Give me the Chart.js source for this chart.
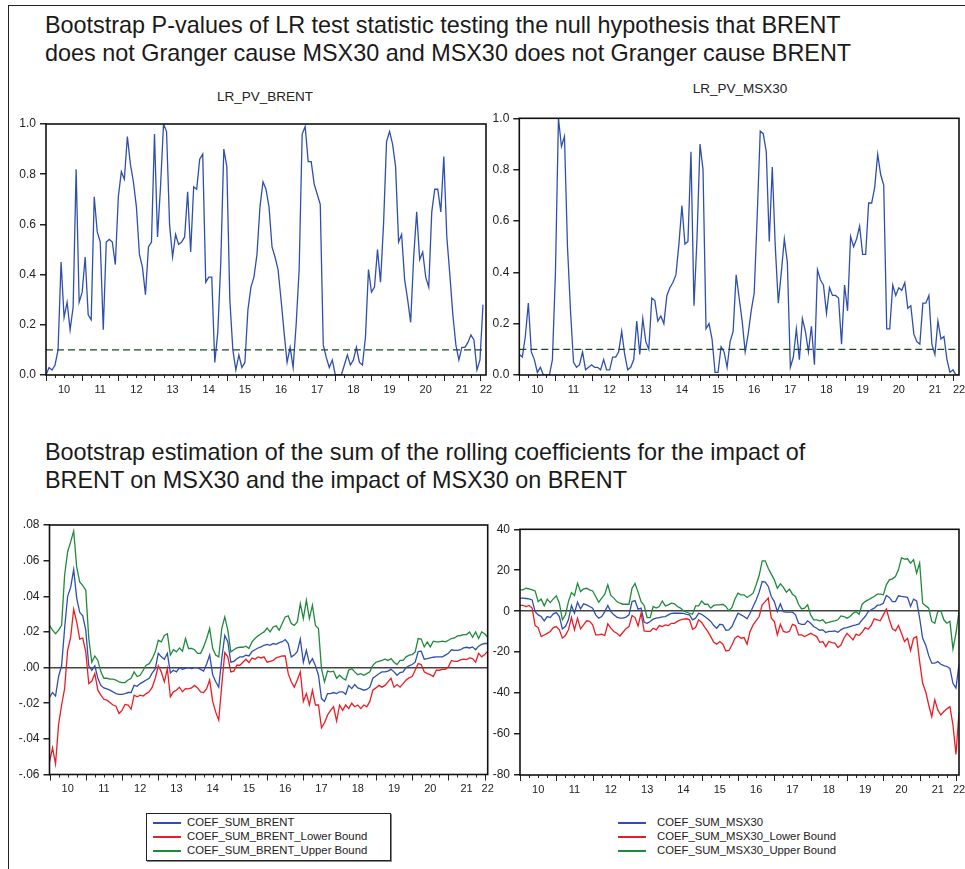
<!DOCTYPE html>
<html>
<head>
<meta charset="utf-8">
<script src="https://cdn.jsdelivr.net/npm/chart.js@4.4.0/dist/chart.umd.min.js"></script>
<style>
html, body { margin: 0; padding: 0; background: #fff; }
body { width: 965px; height: 869px; position: relative; overflow: hidden; font-family: "Liberation Sans", Arial, sans-serif; }
.frame { position: absolute; left: 8px; top: 5px; width: 990px; height: 900px; border-left: 1px solid #222; border-top: 1px solid #222; }
.title { position: absolute; left: 45px; font-size: 23.4px; line-height: 28px; color: #1a1a1a; white-space: nowrap; }
.ptitle { position: absolute; font-size: 13.5px; line-height: 16px; color: #222; transform: translateX(-50%); white-space: nowrap; }
canvas { position: absolute; }
.legend { position: absolute; font-size: 11.3px; color: #222; }
.legend.boxed { border: 1px solid #222; box-shadow: 1px 1px 0 #888; }
.legend .row { position: absolute; height: 14px; line-height: 14px; white-space: nowrap; }
.legend .sw { position: absolute; top: 7px; height: 2px; }
</style>
</head>
<body>
<div class="frame"></div>
<div class="title" style="top:11px">Bootstrap P-values of LR test statistic testing the null hypothesis that BRENT<br>does not Granger cause MSX30 and MSX30 does not Granger cause BRENT</div>
<div class="title" style="top:438px">Bootstrap estimation of the sum of the rolling coefficients for the impact of<br>BRENT on MSX30 and the impact of MSX30 on BRENT</div>
<div class="ptitle" style="left:265px;top:89px">LR_PV_BRENT</div>
<div class="ptitle" style="left:740px;top:81px">LR_PV_MSX30</div>

<canvas id="c1" width="495" height="290" style="left:0px;top:110px"></canvas>
<canvas id="c2" width="490" height="295" style="left:485px;top:105px"></canvas>
<canvas id="c3" width="495" height="300" style="left:0px;top:505px"></canvas>
<canvas id="c4" width="490" height="295" style="left:485px;top:510px"></canvas>

<div id="leg1" class="legend boxed" style="left:146px;top:813px;width:243px;height:46px"></div>
<div id="leg2" class="legend" style="left:612px;top:814px;width:260px;height:46px"></div>

<script>
// 年ラベル（2010〜2022）
const yearLabels = ['10', '11', '12', '13', '14', '15', '16', '17', '18', '19', '20', '21', '22'];

// P値の目盛り
const pvTicks = [0, 0.2, 0.4, 0.6, 0.8, 1.0];
const pvTickLabels = ['0.0', '0.2', '0.4', '0.6', '0.8', '1.0'];
const pvThreshold = 0.1;

const brentTicks = [-0.06, -0.04, -0.02, 0, 0.02, 0.04, 0.06, 0.08];
const brentTickLabels = ['-.06', '-.04', '-.02', '.00', '.02', '.04', '.06', '.08'];
const msxTicks = [-80, -60, -40, -20, 0, 20, 40];
const msxTickLabels = ['-80', '-60', '-40', '-20', '0', '20', '40'];

// 月次データ（2010M01〜）
const lrPvBrent = [
  0.00, 0.03, 0.02, 0.04, 0.10, 0.45, 0.23, 0.29, 0.18, 0.27,
  0.82, 0.29, 0.33, 0.47, 0.24, 0.22, 0.71, 0.57, 0.53, 0.18,
  0.53, 0.54, 0.53, 0.44, 0.71, 0.81, 0.78, 0.95, 0.84, 0.77,
  0.67, 0.48, 0.43, 0.32, 0.51, 0.53, 0.96, 0.55, 0.75, 1.00,
  0.97, 0.60, 0.47, 0.56, 0.52, 0.53, 0.55, 0.73, 0.49, 0.75,
  0.74, 0.86, 0.88, 0.37, 0.39, 0.39, 0.05, 0.17, 0.45, 0.90,
  0.83, 0.30, 0.10, 0.02, 0.08, 0.03, 0.05, 0.26, 0.35, 0.39,
  0.48, 0.67, 0.77, 0.74, 0.67, 0.51, 0.47, 0.42, 0.30, 0.17,
  0.05, 0.11, 0.03, 0.20, 0.42, 0.96, 0.99, 0.85, 0.85, 0.76,
  0.72, 0.68, 0.12, 0.07, 0.03, 0.06, 0.00, 0.00, 0.00, 0.04,
  0.08, 0.04, 0.06, 0.11, 0.05, 0.04, 0.15, 0.42, 0.33, 0.35,
  0.50, 0.37, 0.60, 0.93, 0.97, 0.92, 0.83, 0.53, 0.56, 0.38,
  0.30, 0.21, 0.47, 0.65, 0.46, 0.49, 0.39, 0.35, 0.65, 0.74,
  0.74, 0.65, 0.87, 0.55, 0.40, 0.24, 0.12, 0.06, 0.11, 0.11,
  0.13, 0.16, 0.14, 0.02, 0.06, 0.28
];

const lrPvMsx = [
  0.08, 0.07, 0.15, 0.28, 0.09, 0.06, 0.01, 0.03, 0.00, 0.00,
  0.00, 0.06, 0.40, 1.00, 0.89, 0.93, 0.50, 0.25, 0.05, 0.03,
  0.04, 0.09, 0.02, 0.03, 0.04, 0.03, 0.03, 0.02, 0.06, 0.02,
  0.02, 0.07, 0.07, 0.09, 0.17, 0.08, 0.02, 0.03, 0.06, 0.21,
  0.08, 0.22, 0.13, 0.10, 0.30, 0.29, 0.21, 0.23, 0.20, 0.31,
  0.34, 0.36, 0.39, 0.51, 0.66, 0.51, 0.52, 0.87, 0.27, 0.53,
  0.90, 0.80, 0.18, 0.20, 0.14, 0.01, 0.01, 0.11, 0.09, 0.03,
  0.13, 0.17, 0.39, 0.30, 0.21, 0.09, 0.16, 0.25, 0.32, 0.62,
  0.95, 0.94, 0.87, 0.52, 0.81, 0.50, 0.28, 0.40, 0.53, 0.44,
  0.03, 0.07, 0.18, 0.06, 0.22, 0.17, 0.09, 0.19, 0.04, 0.41,
  0.37, 0.35, 0.24, 0.34, 0.31, 0.31, 0.30, 0.12, 0.35, 0.25,
  0.54, 0.50, 0.53, 0.58, 0.47, 0.47, 0.67, 0.67, 0.73, 0.86,
  0.78, 0.74, 0.18, 0.18, 0.35, 0.31, 0.34, 0.33, 0.36, 0.26,
  0.27, 0.16, 0.13, 0.12, 0.28, 0.28, 0.31, 0.12, 0.08, 0.21,
  0.14, 0.15, 0.06, 0.01, 0.02, 0.00, 0.00
];

const coefBrent = [
  -0.0168, -0.014, -0.016, -0.005, 0.001, 0.022, 0.040, 0.045, 0.055, 0.039,
  0.031, 0.029, 0.021, 0.001, -0.0015, 0.001, -0.006, -0.010, -0.0114, -0.012,
  -0.0127, -0.0136, -0.0146, -0.015, -0.015, -0.0146, -0.014, -0.014, -0.010, -0.0105,
  -0.009, -0.008, -0.007, -0.006, -0.003, -0.0006, 0.008, 0.006, 0.0047, 0.008,
  -0.003, -0.0015, -0.0024, 0, -0.001, -0.0005, 0, -0.0005, 0, 0,
  -0.001, -0.002, 0.002, 0.007, -0.004, -0.008, -0.011, 0.005, 0.018, 0.0145,
  0.003, 0.0035, 0.005, 0.006, 0.006, 0.007, 0.0065, 0.009, 0.010, 0.011,
  0.0116, 0.0125, 0.013, 0.0125, 0.0135, 0.013, 0.014, 0.0145, 0.0157, 0.0135,
  0.006, 0.007, 0.009, 0.016, 0.003, 0.0097, 0.0022, 0.005, 0.001, -0.0043,
  -0.0174, -0.019, -0.0146, -0.0146, -0.014, -0.0146, -0.0136, -0.0136, -0.015, -0.010,
  -0.0118, -0.0095, -0.0114, -0.012, -0.0127, -0.0123, -0.011, -0.006, -0.0047, -0.0035,
  -0.0024, -0.0024, -0.002, -0.001, -0.0024, -0.0043, -0.0028, -0.0024, 0, 0.001,
  0.0017, 0.003, 0.009, 0.0092, 0.0047, 0.005, 0.0054, 0.0058, 0.006, 0.006,
  0.006, 0.007, 0.008, 0.010, 0.0097, 0.0097, 0.010, 0.011, 0.0114, 0.011,
  0.0116, 0.010, 0.012, 0.013, 0.0135, 0.0135
];

const coefBrentLower = [
  -0.053, -0.045, -0.054, -0.032, -0.021, -0.0118, 0.0097, 0.017, 0.0327, 0.0256,
  0.016, 0.0166, 0.0088, -0.009, -0.0077, -0.0034, -0.0127, -0.0155, -0.0178, -0.0183,
  -0.0196, -0.021, -0.0217, -0.0258, -0.024, -0.0207, -0.021, -0.0234, -0.0155, -0.0164,
  -0.0155, -0.016, -0.0146, -0.0136, -0.011, -0.006, 0.001, -0.0024, -0.008, -0.0006,
  -0.0164, -0.0136, -0.0127, -0.011, -0.0136, -0.0118, -0.012, -0.0114, -0.010, -0.0114,
  -0.0136, -0.014, -0.0118, -0.007, -0.019, -0.025, -0.0295, -0.010, 0.0084, 0.006,
  -0.0024, -0.002, 0.0013, 0.0013, 0.003, 0.0047, 0.0028, 0.0054, 0.0047, 0.006,
  0.0054, 0.006, 0.003, 0.0035, 0.004, 0.0054, 0.006, 0.0065, 0.0065, -0.0034,
  -0.008, -0.011, -0.007, -0.0024, -0.019, -0.0146, -0.021, -0.0127, -0.021, -0.021,
  -0.0338, -0.031, -0.0267, -0.024, -0.022, -0.030, -0.021, -0.024, -0.021, -0.023,
  -0.020, -0.022, -0.021, -0.023, -0.021, -0.022, -0.019, -0.0127, -0.0114, -0.010,
  -0.011, -0.010, -0.008, -0.006, -0.011, -0.0095, -0.011, -0.009, -0.007, -0.0058,
  -0.005, -0.0015, 0.0022, 0.0017, -0.0024, -0.0034, -0.004, -0.005, -0.0015, -0.0015,
  -0.001, -0.001, 0.0004, 0.004, 0.0035, 0.0035, 0.0043, 0.0047, 0.0045, 0.0054,
  0.005, 0.003, 0.008, 0.006, 0.0073, 0.0092
];

const coefBrentUpper = [
  0.0237, 0.021, 0.019, 0.021, 0.0237, 0.0518, 0.065, 0.0705, 0.0766, 0.0565,
  0.048, 0.046, 0.0434, 0.0163, 0.003, 0.0065, 0.004, -0.0024, -0.006, -0.006,
  -0.0065, -0.0065, -0.007, -0.008, -0.0084, -0.0084, -0.007, -0.006, -0.0024, -0.005,
  -0.0043, -0.0015, 0.0013, 0.0022, 0.005, 0.0088, 0.0153, 0.0144, 0.018, 0.019,
  0.007, 0.010, 0.0088, 0.011, 0.0092, 0.0163, 0.0107, 0.0107, 0.010, 0.008,
  0.008, 0.0116, 0.0163, 0.0219, 0.0107, 0.007, 0.006, 0.0219, 0.0284, 0.021,
  0.0088, 0.010, 0.011, 0.0114, 0.0114, 0.012, 0.0107, 0.0144, 0.0163, 0.0178,
  0.019, 0.020, 0.0222, 0.020, 0.0228, 0.0234, 0.021, 0.0247, 0.0284, 0.029,
  0.0247, 0.0237, 0.0256, 0.0359, 0.0275, 0.0378, 0.0275, 0.035, 0.0237, 0.0219,
  -0.0006, -0.008, -0.002, -0.0024, -0.002, -0.006, -0.0043, -0.006, -0.007, -0.0015,
  -0.0006, -0.0024, -0.004, -0.0034, -0.0043, -0.0034, -0.0024, 0.0013, 0.003, 0.0035,
  0.004, 0.0047, 0.004, 0.005, 0.003, 0.0017, 0.004, 0.004, 0.006, 0.007,
  0.0073, 0.0088, 0.0163, 0.016, 0.0116, 0.0144, 0.0116, 0.0148, 0.0144, 0.0144,
  0.0148, 0.0144, 0.0153, 0.0163, 0.0166, 0.0178, 0.018, 0.0185, 0.0185, 0.020,
  0.017, 0.020, 0.0163, 0.020, 0.019, 0.017
];

const coefMsx = [
  6.4, 6.4, 6.2, 6.0, 5.5, -0.2, -1.8, -2.6, -4.7, -2.6,
  -3.1, -1.3, -0.7, -2.6, -8.6, -7.5, -4.2, 2.8, -1.0, 4.4,
  1.1, 3.6, 3.1, 2.3, 1.5, -1.8, -3.4, -2.6, -0.2, 2.8,
  -0.2, -1.8, -2.9, -3.4, -3.4, -2.9, -1.8, 4.7, 5.2, 1.0,
  1.5, -5.4, -5.9, -5.0, -3.9, -3.4, -3.1, -2.8, -2.6, -1.8,
  -1.1, -1.0, -1.0, -1.0, -1.1, -1.5, -1.8, -4.2, -3.4, -1.0,
  -1.5, -2.6, -3.7, -5.0, -7.0, -8.3, -6.4, -6.7, -9.3, -9.1,
  -7.5, -4.2, -1.0, -1.8, -2.6, -3.7, -1.0, 2.3, 5.5, 9.3,
  14.5, 14.2, 12.1, 7.2, 4.7, -0.2, 3.6, -0.2, -0.5, -0.5,
  -0.5, -1.8, -5.9, -6.4, -6.4, -4.7, -5.9, -7.5, -8.3, -9.3,
  -9.1, -10.4, -9.9, -9.9, -9.6, -10.3, -9.1, -8.3, -8.0, -7.5,
  -7.0, -6.7, -6.2, -4.2, -2.6, -0.2, 0.7, 1.5, 2.8, 3.1,
  3.9, 7.7, 6.7, 4.7, 4.7, 7.5, 7.2, 7.0, 6.8, 2.3,
  5.9, 5.0, -3.4, -13.2, -16.5, -21.7, -25.4, -25.4, -24.6, -25.9,
  -26.6, -27.0, -27.9, -35.2, -37.6, -25.9
];

const coefMsxLower = [
  2.8, 2.8, 2.3, 2.8, 1.5, -7.0, -8.0, -12.4, -11.6, -10.8,
  -9.9, -8.0, -7.5, -9.1, -13.2, -11.9, -9.1, -3.1, -9.1, -3.4,
  -8.6, -6.7, -4.7, -5.0, -6.7, -11.6, -11.6, -11.2, -11.9, -6.2,
  -8.3, -9.9, -10.8, -12.1, -10.3, -8.6, -7.5, -2.1, -3.1, -7.2,
  -1.0, -9.6, -9.9, -9.9, -8.3, -9.1, -7.0, -7.5, -6.7, -7.0,
  -5.9, -5.9, -5.0, -4.2, -3.9, -3.7, -4.2, -8.8, -8.0, -4.2,
  -5.5, -7.8, -9.9, -12.4, -15.2, -16.1, -14.8, -16.1, -19.4, -19.2,
  -16.5, -13.2, -12.1, -13.2, -12.9, -16.1, -9.9, -6.7, -4.6, -2.6,
  3.1, 4.7, 6.4, -3.4, -5.0, -11.6, -6.4, -9.9, -10.3, -9.9,
  -6.4, -7.0, -11.6, -11.6, -12.4, -11.6, -10.8, -11.6, -12.4, -15.2,
  -14.8, -17.3, -14.8, -15.3, -15.6, -17.8, -16.5, -13.2, -10.8, -12.4,
  -14.0, -11.2, -11.9, -10.3, -8.0, -8.8, -7.0, -3.7, -4.2, -4.7,
  -1.8, 1.1, -4.2, -8.6, -9.6, -7.0, -10.8, -14.8, -13.2, -19.2,
  -13.2, -12.4, -24.6, -35.2, -39.3, -45.8, -51.5, -43.3, -48.2, -50.7,
  -49.0, -47.7, -46.6, -55.5, -69.9, -49.4
];

const coefMsxUpper = [
  10.4, 10.4, 11.2, 10.9, 10.4, 9.9, 4.7, 5.9, 2.6, 5.9,
  4.2, 6.0, 7.5, 3.9, -4.2, -1.8, 4.7, 9.1, 7.7, 13.7,
  9.6, 10.9, 11.2, 10.4, 9.9, 7.2, 4.4, 6.4, 8.3, 12.9,
  7.7, 6.4, 4.7, 3.9, 3.4, 3.4, 3.4, 11.2, 13.5, 9.3,
  4.7, 2.8, -3.1, -3.1, 2.3, 1.5, 2.3, 5.0, 2.6, 3.1,
  3.9, 3.6, 2.3, 1.5, 0.2, -0.5, -1.0, -1.5, 2.6, 2.6,
  5.0, 3.4, 3.4, 1.5, 2.8, 3.1, 3.1, 3.4, 2.3, 0.2,
  1.8, 6.0, 8.8, 8.0, 8.0, 6.7, 7.7, 8.8, 12.9, 17.4,
  24.6, 24.6, 21.0, 18.1, 15.3, 11.2, 13.4, 11.6, 9.3, 10.8,
  8.3, 7.2, 3.4, 1.1, 1.5, 3.1, -1.8, -4.2, -4.2, -4.7,
  -4.2, -5.9, -5.4, -5.0, -4.7, -4.2, -2.3, -2.6, -3.4, -2.6,
  -1.0, -0.2, -1.5, 3.4, 4.7, 5.5, 6.4, 7.2, 8.3, 8.3,
  8.0, 12.9, 15.3, 15.8, 16.9, 20.2, 26.0, 25.4, 25.6, 23.5,
  25.2, 18.6, 23.5, 3.9, 2.6, 1.5, -5.0, -5.9, -0.2, 0.2,
  -4.2, -5.9, -5.0, -18.4, -10.8, -0.2
];

const brentNames = ['COEF_SUM_BRENT', 'COEF_SUM_BRENT_Lower Bound', 'COEF_SUM_BRENT_Upper Bound'];
const msxNames = ['COEF_SUM_MSX30', 'COEF_SUM_MSX30_Lower Bound', 'COEF_SUM_MSX30_Upper Bound'];

const BLUE = '#2f4fae';
const RED = '#ec1c24';
const GREEN = '#1f8a3c';
const DASH = '#1c4a22';

Chart.defaults.font.family = '"Liberation Sans", Arial, sans-serif';
Chart.defaults.color = '#222';

// 枠と x 軸の目盛り（年・四半期）
const framePlugin = {
    id: 'evFrame',
    afterDraw(chart) {
        const ctx = chart.ctx;
        const a = chart.chartArea;
        const x = chart.scales.x;
        ctx.save();
        ctx.strokeStyle = '#222';
        ctx.lineWidth = 1;
        for (let m = 0; m <= x.max; m += 3) {
            const px = Math.round(x.getPixelForValue(m)) + 0.5;
            const len = m % 12 === 0 ? 6 : 3;
            ctx.beginPath();
            ctx.moveTo(px, a.bottom);
            ctx.lineTo(px, a.bottom + len);
            ctx.stroke();
        }
        ctx.strokeStyle = '#111';
        ctx.lineWidth = 1.6;
        ctx.strokeRect(a.left, a.top, a.right - a.left, a.bottom - a.top);
        ctx.restore();
    }
};

function toPoints(values) {
    return values.map((v, i) => ({ x: i, y: v }));
}

function makePanel(id, p) {
    const labelPos = yearLabels.map((_, i) => i < yearLabels.length - 1 ? i * 12 + 6 : p.xMax);
    const datasets = p.series.map(s => ({
        data: s.points,
        borderColor: s.color,
        borderWidth: s.width || 1.3,
        borderDash: s.dash || [],
        pointRadius: 0,
        tension: 0,
        fill: false
    }));

    new Chart(document.getElementById(id), {
        type: 'line',
        data: { datasets: datasets },
        options: {
            responsive: false,
            animation: false,
            devicePixelRatio: 1,
            layout: { padding: p.padding },
            plugins: { legend: { display: false }, tooltip: { enabled: false } },
            scales: {
                x: {
                    type: 'linear',
                    min: 0,
                    max: p.xMax,
                    afterBuildTicks: s => { s.ticks = labelPos.map(v => ({ value: v })); },
                    afterFit: s => { s.height = p.xAxisHeight; },
                    grid: { display: true, drawOnChartArea: false, drawTicks: true, tickLength: 7, tickColor: 'rgba(0,0,0,0)' },
                    border: { display: false },
                    ticks: {
                        autoSkip: false, maxRotation: 0, padding: 1,
                        font: { size: 11 },
                        callback: (v, i) => yearLabels[i]
                    }
                },
                y: {
                    min: p.yMin,
                    max: p.yMax,
                    afterBuildTicks: s => { s.ticks = p.yTicks.map(v => ({ value: v })); },
                    afterFit: s => { s.width = p.yAxisWidth; },
                    grid: {
                        display: true,
                        drawOnChartArea: !!p.zeroLine,
                        color: c => (p.zeroLine && c.tick && c.tick.value === 0) ? '#444' : 'rgba(0,0,0,0)',
                        lineWidth: 1.5,
                        drawTicks: true,
                        tickLength: 6,
                        tickColor: '#222'
                    },
                    border: { display: false },
                    ticks: {
                        padding: 4,
                        font: { size: 12 },
                        callback: (v, i) => p.yLabels[i]
                    }
                }
            }
        },
        plugins: [framePlugin]
    });
}

const topMax = 146;
const bottomMax = 145;

makePanel('c1', {
    xMax: topMax, yMin: 0, yMax: 1, yTicks: pvTicks, yLabels: pvTickLabels,
    padding: { left: 0, top: 14, right: 9, bottom: 0 }, yAxisWidth: 46, xAxisHeight: 25,
    series: [
        { points: [{ x: 0, y: pvThreshold }, { x: topMax, y: pvThreshold }], color: DASH, dash: [7, 4], width: 1.3 },
        { points: toPoints(lrPvBrent), color: BLUE }
    ]
});

makePanel('c2', {
    xMax: topMax, yMin: 0, yMax: 1, yTicks: pvTicks, yLabels: pvTickLabels,
    padding: { left: 0, top: 13.3, right: 16, bottom: 0 }, yAxisWidth: 34.3, xAxisHeight: 25,
    series: [
        { points: [{ x: 0, y: pvThreshold }, { x: topMax, y: pvThreshold }], color: DASH, dash: [7, 4], width: 1.3 },
        { points: toPoints(lrPvMsx), color: BLUE }
    ]
});

makePanel('c3', {
    xMax: bottomMax, yMin: -0.06, yMax: 0.08, yTicks: brentTicks, yLabels: brentTickLabels, zeroLine: true,
    padding: { left: 0, top: 20, right: 7.3, bottom: 0 }, yAxisWidth: 49.5, xAxisHeight: 30.5,
    series: [
        { points: toPoints(coefBrentUpper), color: GREEN },
        { points: toPoints(coefBrentLower), color: RED },
        { points: toPoints(coefBrent), color: BLUE }
    ]
});

makePanel('c4', {
    xMax: bottomMax, yMin: -80, yMax: 40, yTicks: msxTicks, yLabels: msxTickLabels, zeroLine: true,
    padding: { left: 0, top: 19.3, right: 16, bottom: 0 }, yAxisWidth: 35, xAxisHeight: 30,
    series: [
        { points: toPoints(coefMsxUpper), color: GREEN },
        { points: toPoints(coefMsxLower), color: RED },
        { points: toPoints(coefMsx), color: BLUE }
    ]
});

// 凡例
function buildLegend(id, names, swLeft, textLeft) {
    const box = document.getElementById(id);
    const colors = [BLUE, RED, GREEN];
    names.forEach((name, i) => {
        const row = document.createElement('div');
        row.className = 'row';
        row.style.top = (1 + i * 14) + 'px';
        row.style.left = '0px';
        row.innerHTML = '<div class="sw" style="left:' + swLeft + 'px;width:28px;background:' + colors[i] + '"></div>' +
            '<span style="position:absolute;left:' + textLeft + 'px">' + name + '</span>';
        box.appendChild(row);
    });
}
buildLegend('leg1', brentNames, 6, 40);
buildLegend('leg2', msxNames, 6, 45);
</script>
</body>
</html>
